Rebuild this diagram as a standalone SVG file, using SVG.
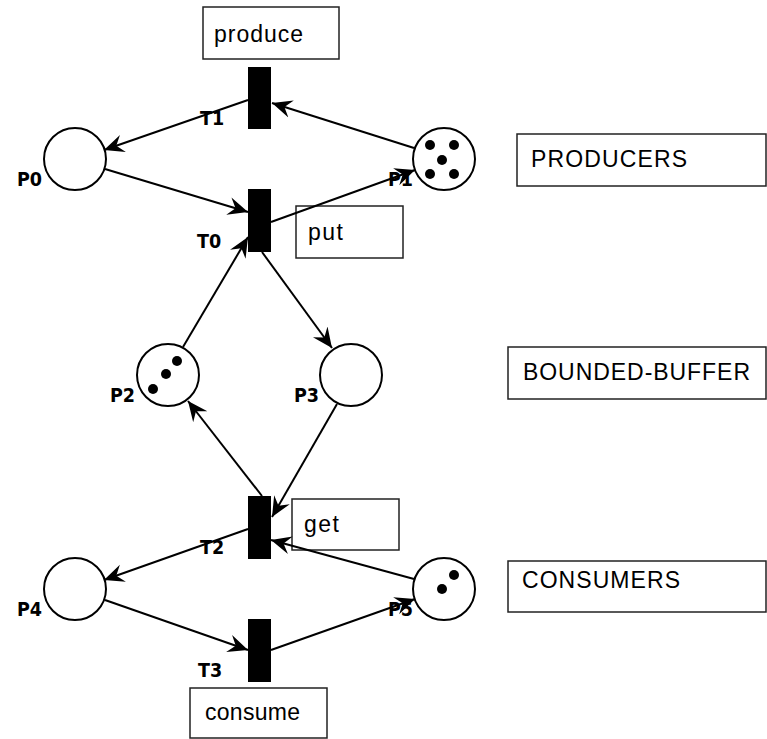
<svg xmlns="http://www.w3.org/2000/svg" width="767" height="739" viewBox="0 0 767 739">
  <style>
    .box { fill: #fff; stroke: #222; stroke-width: 1.5; }
    .boxtext { font-family: "Liberation Sans", Arial, sans-serif; font-size: 23px; fill: #000; }
    .place { fill: #fff; stroke: #000; stroke-width: 2; }
    .token { fill: #000; }
    .bar { fill: #000; }
    .lbl { font-family: "DejaVu Sans Condensed", "DejaVu Sans", sans-serif; font-stretch: condensed; font-weight: bold; font-size: 19.5px; fill: #000; }
    .arc { fill: none; stroke: #000; stroke-width: 2; marker-end: url(#arrow); }
  </style>
  <defs>
    <marker id="arrow" markerWidth="22" markerHeight="20" refX="20" refY="10" orient="auto" markerUnits="userSpaceOnUse">
      <path d="M0,1 L20,10 L0,19 L7,10 Z" fill="#000"/>
    </marker>
  </defs>

  <!-- annotation boxes -->
  <g id="produce"><rect class="box" x="203" y="7" width="136" height="52"/><text class="boxtext" x="214" y="42" textLength="89" lengthAdjust="spacing">produce</text></g>
  <g id="put"><rect class="box" x="296" y="206" width="107" height="52"/><text class="boxtext" x="308" y="240" textLength="35" lengthAdjust="spacing">put</text></g>
  <g id="get"><rect class="box" x="292" y="499" width="107" height="51"/><text class="boxtext" x="304" y="532" textLength="35" lengthAdjust="spacing">get</text></g>
  <g id="consume"><rect class="box" x="190" y="688" width="137" height="50"/><text class="boxtext" x="205" y="720" textLength="95" lengthAdjust="spacing">consume</text></g>
  <g id="producers"><rect class="box" x="517" y="134" width="249" height="52"/><text class="boxtext" x="531" y="167" textLength="156" lengthAdjust="spacing">PRODUCERS</text></g>
  <g id="bounded-buffer"><rect class="box" x="508" y="347" width="258" height="52"/><text class="boxtext" x="523" y="380" textLength="227" lengthAdjust="spacing">BOUNDED-BUFFER</text></g>
  <g id="consumers"><rect class="box" x="508" y="561" width="258" height="51"/><text class="boxtext" x="522" y="588" textLength="158" lengthAdjust="spacing">CONSUMERS</text></g>

  <!-- arcs -->
  <g id="arcs">
    <line class="arc" x1="248" y1="100" x2="104" y2="150"/>
    <line class="arc" x1="414" y1="148" x2="272" y2="103"/>
    <line class="arc" x1="105" y1="169" x2="248" y2="212"/>
    <line class="arc" x1="271" y1="222" x2="415" y2="170"/>
    <line class="arc" x1="183" y1="347" x2="248" y2="237"/>
    <line class="arc" x1="262" y1="252" x2="332" y2="348"/>
    <line class="arc" x1="337" y1="404" x2="272" y2="517"/>
    <line class="arc" x1="262" y1="496" x2="188" y2="401"/>
    <line class="arc" x1="248" y1="529" x2="104" y2="580"/>
    <line class="arc" x1="414" y1="579" x2="271" y2="540"/>
    <line class="arc" x1="105" y1="600" x2="248" y2="650"/>
    <line class="arc" x1="271" y1="650" x2="415" y2="599"/>
  </g>

  <!-- places -->
  <g id="P0"><circle class="place" cx="75" cy="159" r="31"/><text class="lbl" x="17" y="186">P0</text></g>
  <g id="P1"><circle class="place" cx="444" cy="159" r="31"/>
    <circle class="token" cx="430" cy="145" r="5"/><circle class="token" cx="454" cy="145" r="5"/>
    <circle class="token" cx="442" cy="160" r="5"/>
    <circle class="token" cx="430" cy="174" r="5"/><circle class="token" cx="454" cy="174" r="5"/>
    <text class="lbl" x="388" y="186">P1</text></g>
  <g id="P2"><circle class="place" cx="168" cy="375" r="31"/>
    <circle class="token" cx="177" cy="361" r="5"/><circle class="token" cx="166" cy="374" r="5"/><circle class="token" cx="153" cy="389" r="5"/>
    <text class="lbl" x="110" y="402">P2</text></g>
  <g id="P3"><circle class="place" cx="351" cy="375" r="31"/><text class="lbl" x="294" y="402">P3</text></g>
  <g id="P4"><circle class="place" cx="75" cy="589" r="31"/><text class="lbl" x="17" y="616">P4</text></g>
  <g id="P5"><circle class="place" cx="444" cy="589" r="31"/>
    <circle class="token" cx="454" cy="575" r="5"/><circle class="token" cx="442" cy="589" r="5"/>
    <text class="lbl" x="388" y="616">P5</text></g>

  <!-- transitions -->
  <g id="T1"><rect class="bar" x="248" y="67" width="23" height="62"/><text class="lbl" x="200" y="125">T1</text></g>
  <g id="T0"><rect class="bar" x="248" y="189" width="23" height="63"/><text class="lbl" x="197" y="248">T0</text></g>
  <g id="T2"><rect class="bar" x="248" y="496" width="23" height="63"/><text class="lbl" x="200" y="554">T2</text></g>
  <g id="T3"><rect class="bar" x="248" y="619" width="23" height="63"/><text class="lbl" x="198" y="677">T3</text></g>
</svg>
